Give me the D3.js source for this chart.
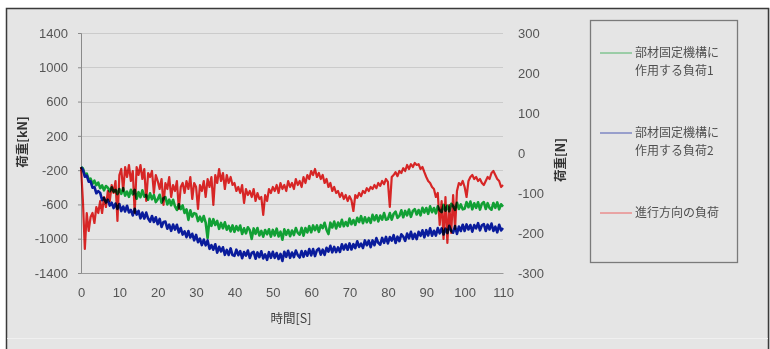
<!DOCTYPE html>
<html>
<head>
<meta charset="utf-8">
<script src="https://cdn.jsdelivr.net/npm/d3@7"></script>
<style>
  html, body { margin: 0; padding: 0; background: #ffffff; }
  svg { display: block; }
  .tick text { font-family: "Liberation Sans", Arial, sans-serif; font-size: 13px; fill: #555555; }
</style>
</head>
<body>
<script>
// Time step of the recorded samples [s]
const sampleStep = 0.5;

// Tick labels
const xTicks = [0, 10, 20, 30, 40, 50, 60, 70, 80, 90, 100, 110];
const leftTicks = [1400, 1000, 600, 200, -200, -600, -1000, -1400];
const rightTicks = [300, 200, 100, 0, -100, -200, -300];

// Series names (legend, two lines each)
const seriesNames = [
  ["部材固定機構に", "作用する負荷1"],
  ["部材固定機構に", "作用する負荷2"],
  ["進行方向の負荷"]
];
const seriesColors = ["#12a035", "#0a1c9c", "#f02a2a"];

// Load 1 on the fixing mechanism [kN], every 0.5 s from 0 to 110 s
const load1 = [
  -165,-180,-255,-240,-310,-300,-360,-323,-375,-345,-410,-378,-435,-385,-405,-448,-400,-452,-430,-480,
  -420,-477,-410,-497,-450,-512,-430,-482,-430,-534,-457,-516,-435,-510,-490,-545,-470,-540,-490,-573,
  -540,-487,-580,-527,-515,-600,-545,-610,-545,-623,-665,-598,-655,-612,-700,-657,-780,-668,-742,-701,
  -710,-794,-743,-801,-735,-811,-993,-769,-850,-772,-840,-793,-885,-816,-878,-809,-895,-850,-915,-845,
  -920,-854,-903,-846,-945,-879,-938,-866,-900,-1002,-880,-943,-875,-962,-909,-976,-898,-949,-890,-976,
  -897,-962,-883,-973,-918,-1012,-891,-955,-898,-971,-904,-957,-875,-932,-953,-874,-965,-876,-927,-854,
  -925,-845,-900,-845,-920,-841,-877,-814,-895,-946,-813,-869,-800,-881,-812,-859,-780,-855,-805,-850,
  -765,-831,-782,-839,-755,-806,-737,-819,-750,-807,-758,-815,-722,-784,-726,-798,-730,-778,-700,-778,
  -770,-701,-778,-709,-685,-756,-733,-669,-750,-676,-728,-659,-745,-677,-655,-717,-665,-727,-639,-695,
  -642,-710,-622,-690,-642,-704,-621,-668,-690,-606,-673,-614,-680,-593,-620,-663,-580,-652,-600,-657,
  -650,-574,-633,-567,-657,-586,-640,-575,-660,-591,-572,-653,-585,-641,-662,-583,-640,-576,-657,-598,
  -625
];

// Load 2 on the fixing mechanism [kN]
const load2 = [
  -165,-195,-277,-265,-335,-330,-405,-395,-470,-445,-465,-550,-525,-578,-545,-613,-580,-643,-590,-652,
  -595,-678,-625,-682,-615,-693,-665,-728,-650,-718,-675,-762,-695,-765,-695,-765,-800,-735,-805,-750,
  -830,-769,-863,-806,-800,-883,-835,-908,-835,-894,-837,-926,-875,-952,-915,-982,-910,-986,-942,-1019,
  -955,-1041,-998,-1074,-1010,-1077,-1020,-1118,-1075,-1128,-1065,-1163,-1095,-1148,-1100,-1188,-1130,-1189,-1113,-1191,
  -1200,-1128,-1192,-1145,-1228,-1155,-1197,-1138,-1225,-1166,-1153,-1234,-1160,-1215,-1146,-1231,-1182,-1247,-1157,-1223,
  -1153,-1223,-1167,-1237,-1177,-1260,-1153,-1212,-1140,-1223,-1161,-1215,-1138,-1191,-1220,-1144,-1212,-1145,-1198,-1121,
  -1195,-1121,-1203,-1134,-1115,-1186,-1127,-1189,-1105,-1151,-1083,-1159,-1095,-1156,-1102,-1154,-1065,-1126,-1068,-1129,
  -1055,-1126,-1063,-1109,-1030,-1096,-1058,-1109,-1020,-1076,-1023,-1099,-1020,-1076,-993,-1049,-1070,-991,-1048,-979,
  -1055,-981,-1023,-959,-1050,-976,-1028,-949,-975,-1025,-940,-995,-920,-1001,-943,-1004,-920,-966,-902,-984,
  -900,-962,-878,-965,-907,-964,-876,-938,-880,-951,-883,-934,-850,-908,-930,-853,-945,-857,-910,-837,
  -910,-833,-892,-840,-918,-841,-880,-818,-902,-843,-829,-910,-836,-892,-823,-909,-860,-926,-837,-903,
  -875
];

// Load in the travel direction [N] (secondary axis)
const travelLoad = [
  -35,-120,-240,-150,-195,-160,-150,-175,-135,-150,-120,-150,-110,-135,-95,-120,-80,-100,-70,-170,
  -55,-40,-95,-35,-60,-30,-70,-45,-150,-35,-55,-30,-65,-40,-120,-50,-60,-45,-100,-55,
  -70,-90,-65,-130,-75,-90,-60,-110,-80,-95,-70,-140,-85,-75,-100,-70,-90,-60,-115,-75,
  -85,-140,-80,-95,-70,-110,-65,-85,-60,-130,-55,-75,-40,-70,-50,-90,-55,-75,-60,-80,
  -75,-95,-85,-100,-80,-125,-90,-105,-95,-110,-90,-120,-100,-115,-110,-155,-105,-120,-90,-100,
  -85,-95,-80,-100,-75,-90,-80,-95,-70,-85,-75,-90,-65,-80,-70,-85,-60,-75,-55,-65,
  -45,-55,-40,-60,-50,-65,-55,-75,-65,-85,-75,-95,-85,-100,-95,-110,-100,-115,-105,-120,
  -108,-118,-145,-105,-112,-100,-108,-95,-100,-88,-95,-85,-90,-80,-88,-75,-82,-70,-78,-65,
  -72,-135,-60,-55,-48,-58,-45,-50,-38,-45,-30,-40,-28,-35,-25,-30,-28,-40,-35,-48,
  -60,-70,-75,-85,-90,-110,-100,-180,-120,-215,-110,-225,-130,-200,-105,-190,-95,-75,-80,-70,
  -85,-110,-70,-60,-55,-65,-60,-70,-65,-75,-80,-70,-60,-65,-50,-45,-55,-65,-70,-85,
  -80
];

const W = 770, H = 349;
const svg = d3.select("body").append("svg").attr("width", W).attr("height", H);

// Frame
svg.append("rect").attr("x", 0).attr("y", 0).attr("width", W).attr("height", H).attr("fill", "#ffffff");
svg.append("rect").attr("x", 6).attr("y", 8).attr("width", W - 6).attr("height", H - 8).attr("fill", "#e5e5e5");
svg.append("path").attr("d", `M6.5,${H} V8.5 H768.5 V${H}`).attr("fill", "none").attr("stroke", "#3a3a3a").attr("stroke-width", 1.5);
svg.append("line").attr("x1", 7).attr("x2", 768).attr("y1", 338.5).attr("y2", 338.5).attr("stroke", "#f0f0f0").attr("stroke-width", 1);

// Scales
const x = d3.scaleLinear().domain([0, 110]).range([81, 503]);
const yL = d3.scaleLinear().domain([-1400, 1400]).range([273, 33]);
const yR = d3.scaleLinear().domain([-300, 300]).range([273, 33]);

// Horizontal gridlines at the primary-axis ticks
svg.append("g").selectAll("line").data(leftTicks).join("line")
  .attr("x1", x(0)).attr("x2", x(110))
  .attr("y1", d => Math.round(yL(d)) + 0.5).attr("y2", d => Math.round(yL(d)) + 0.5)
  .attr("stroke", "#cbcbcb").attr("stroke-width", 1);

// Axes
const gx = svg.append("g").attr("transform", `translate(0,${yL(-1400)})`)
  .call(d3.axisBottom(x).tickValues(xTicks).tickSize(0).tickPadding(15).tickFormat(d => String(d)));
gx.select(".domain").attr("stroke", "#9a9a9a");

const gl = svg.append("g").attr("transform", `translate(${x(0)},0)`)
  .call(d3.axisLeft(yL).tickValues(leftTicks).tickSize(3).tickPadding(10).tickFormat(d => String(d)));
gl.select(".domain").attr("stroke", "#8a8a8a");
gl.selectAll(".tick line").attr("stroke", "#8a8a8a");

const gr = svg.append("g").attr("transform", `translate(${x(110)},0)`)
  .call(d3.axisRight(yR).tickValues(rightTicks).tickSize(0).tickPadding(15).tickFormat(d => String(d)));
gr.select(".domain").remove();

// Axis titles
svg.append("text")
  .attr("transform", `translate(27,142) rotate(-90)`)
  .attr("text-anchor", "middle")
  .attr("font-family", "'Noto Sans CJK JP', sans-serif").attr("font-size", 12.5).attr("font-weight", "bold")
  .attr("fill", "#333333").text("荷重[kN]");
svg.append("text")
  .attr("transform", `translate(565,160) rotate(-90)`)
  .attr("text-anchor", "middle")
  .attr("font-family", "'Noto Sans CJK JP', sans-serif").attr("font-size", 12.5).attr("font-weight", "bold")
  .attr("fill", "#333333").text("荷重[N]");
svg.append("text")
  .attr("x", 291).attr("y", 323)
  .attr("text-anchor", "middle")
  .attr("font-family", "'Noto Sans CJK JP', sans-serif").attr("font-size", 12.5)
  .attr("fill", "#404040").text("時間[S]");

// Series lines
const idxX = (d, i) => x(i * sampleStep);
const lineL = d3.line().x(idxX).y(d => yL(d));
const lineR = d3.line().x(idxX).y(d => yR(d));

svg.append("path").datum(load1).attr("d", lineL)
  .attr("fill", "none").attr("stroke", seriesColors[0]).attr("stroke-width", 2.6).attr("stroke-linejoin", "round");
svg.append("path").datum(load2).attr("d", lineL)
  .attr("fill", "none").attr("stroke", seriesColors[1]).attr("stroke-width", 2.6).attr("stroke-linejoin", "round");
svg.append("path").datum(travelLoad).attr("d", lineR)
  .attr("fill", "none").attr("stroke", seriesColors[2]).attr("stroke-width", 2.2).attr("stroke-linejoin", "round")
  .style("mix-blend-mode", "multiply");

// Legend
const legend = svg.append("g");
legend.append("rect").attr("x", 590.5).attr("y", 20.5).attr("width", 147).attr("height", 242)
  .attr("fill", "none").attr("stroke", "#7a7a7a").attr("stroke-width", 1.3);
const legendY = [53, 133, 213];
seriesNames.forEach((lines, i) => {
  const g = legend.append("g").attr("transform", `translate(0,${legendY[i]})`);
  g.append("line").attr("x1", 600).attr("x2", 632).attr("y1", 0).attr("y2", 0)
    .attr("stroke", seriesColors[i]).attr("stroke-width", 1).attr("opacity", 0.7);
  lines.forEach((t, j) => {
    g.append("text").attr("x", 635).attr("y", j * 18).attr("dy", "0.35em")
      .attr("font-family", "'Noto Sans CJK JP', sans-serif").attr("font-size", 12)
      .attr("fill", "#505050").text(t);
  });
});
</script>
</body>
</html>
